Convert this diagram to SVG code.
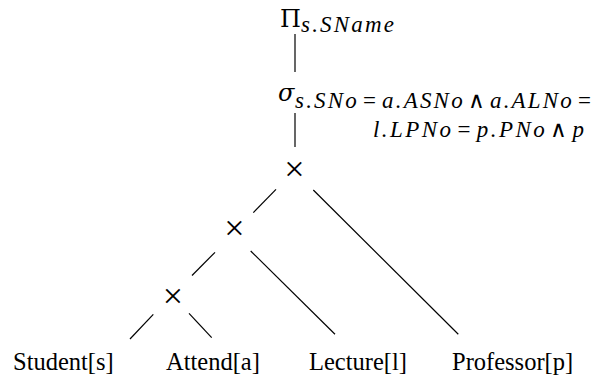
<svg xmlns="http://www.w3.org/2000/svg" width="592" height="379" viewBox="0 0 592 379">
<style>
.lbl{font-family:"Liberation Serif","Times New Roman",serif;font-size:24.5px;fill:#000}
.op{font-family:"DejaVu Serif",serif;font-size:24px;fill:#000}
.it{font-family:"Liberation Serif","Times New Roman",serif;font-style:italic;font-size:23px;fill:#000}
.up{font-style:normal}
.x{font-family:"Liberation Serif",serif;font-size:36px;fill:#000;text-anchor:middle;dominant-baseline:central}
.c line{stroke:#000;stroke-width:1.2}
</style>
<rect width="592" height="379" fill="#fff"/>
<g id="proj">
<text class="op" x="280" y="27">Π</text>
<text class="it" x="301" y="32" textLength="93" lengthAdjust="spacing">s.SName</text>
</g>
<g id="select">
<text class="op" x="278" y="101" style="font-style:italic">σ</text>
<text class="it" x="295" y="108" textLength="296" lengthAdjust="spacing">s.SNo<tspan class="up" dx="4">=</tspan><tspan dx="4">a.ASNo</tspan><tspan class="up" dx="3">∧</tspan><tspan dx="3">a.ALNo</tspan><tspan class="up" dx="4">=</tspan></text>
<text class="it" x="373" y="137" textLength="211" lengthAdjust="spacing">l.LPNo<tspan class="up" dx="4">=</tspan><tspan dx="4">p.PNo</tspan><tspan class="up" dx="3">∧</tspan><tspan dx="3">p</tspan></text>
</g>
<g id="join1"><text class="x" x="294.5" y="168.5">×</text></g>
<g id="join2"><text class="x" x="234.3" y="228.3">×</text></g>
<g id="join3"><text class="x" x="173" y="296">×</text></g>
<g id="student"><text class="lbl" x="13" y="370">Student[s]</text></g>
<g id="attend"><text class="lbl" x="166" y="370">Attend[a]</text></g>
<g id="lecture"><text class="lbl" x="309" y="370">Lecture[l]</text></g>
<g id="professor"><text class="lbl" x="452" y="370">Professor[p]</text></g>
<g class="c" id="connectors">
<line x1="295" y1="34" x2="295" y2="72"/>
<line x1="295" y1="113" x2="295" y2="147"/>
<line x1="276" y1="189.3" x2="253.3" y2="212.7"/>
<line x1="313.3" y1="190" x2="458.3" y2="334.3"/>
<line x1="215" y1="252.3" x2="192" y2="275.5"/>
<line x1="250.7" y1="251" x2="335" y2="334.3"/>
<line x1="153.3" y1="314.3" x2="130" y2="339"/>
<line x1="189" y1="313.3" x2="211.7" y2="337.7"/>
</g>
</svg>
